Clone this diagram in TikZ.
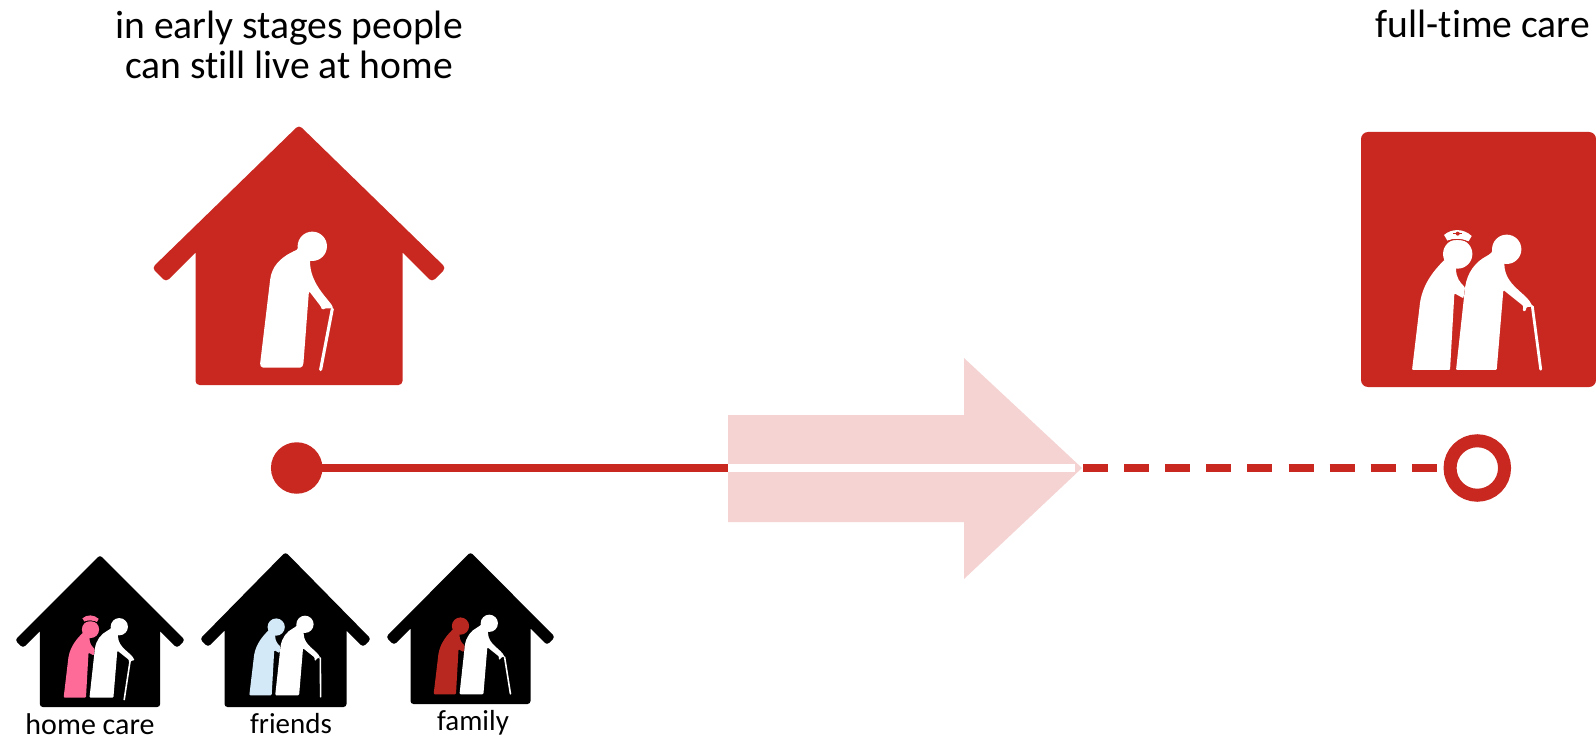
\documentclass[tikz,border=0pt]{standalone}
\usepackage{fontspec}
\setmainfont[Ligatures=NoCommon]{Carlito}
\definecolor{cred}{HTML}{C92820}
\definecolor{cpink}{HTML}{F5D3D3}
\definecolor{chome}{HTML}{FF6B99}
\definecolor{cfriend}{HTML}{D3E9F7}
\definecolor{cfam}{HTML}{B82820}
\tikzset{
  title/.style={font=\fontsize{39.6}{39.5}\selectfont,align=center,inner sep=0pt},
  lab/.style={font=\fontsize{29}{36}\selectfont,inner sep=0pt},
}
% #1 apex x, #2 apex y, #3 wall half width, #4 tip half width, #5 tip y, #6 eave depth, #7 bottom y, #8 colour, #9 corner radius
\newcommand{\myhouse}[9]{%
  \fill[#8,rounded corners=#9pt]
    (#1,#2-4) -- (#1+#4,#5) -- (#1+#4-#6,#5+#6)
    [sharp corners] -- (#1+#3,#5+#6-#4+#6+#3) [rounded corners=#9pt] -- (#1+#3,#7) -- (#1-#3,#7)
    [sharp corners] -- (#1-#3,#5+#6-#4+#6+#3) [rounded corners=#9pt] -- (#1-#4+#6,#5+#6) -- (#1-#4,#5) -- cycle;
}
% coordinates below: 3x zoom pixels, origin at the man's head centre
\newcommand{\soloman}{%
  \fill (0,0) circle (44);
  \fill[rounded corners=1.5] (-44,1) .. controls (-42,10) and (-50,12) .. (-60,17)
     .. controls (-95,35) and (-122,60) .. (-127,105) -- (-157,356) -- (-152,364) -- (-32,364) -- (-27,356) -- (-10,134)
     -- (26,181) -- (30,192) -- (36,186) -- (62,186) -- (61,180)
     .. controls (40,150) and (-5,110) .. (-7,44) -- (0,0) -- cycle;
  \draw[white,line width=3.1pt,line cap=round] (60,188) -- (25,370);
}
\newcommand{\pairman}[1]{%
  \fill (0,0) circle (44);
  \fill[rounded corners=1] (-44,1) .. controls (-42,8) and (-48,12) .. (-56,18)
    .. controls (-95,38) and (-118,70) .. (-125,115) -- (-152,362) -- (-30,362) -- (-10,122)
    -- (50,170) -- (48,185) -- (56,186) -- (60,173) -- (78,172)
    .. controls (60,130) and (-5,110) .. (-7,44) -- (0,0) -- cycle;
  \draw[white,line width=\canew,line cap=round] #1;
}
\newcommand{\nurse}[2]{%
  \fill[#1] (-147,14) circle (44);
  \fill[#1,rounded corners=1] (-187,32) .. controls (-215,60) and (-250,100) .. (-260,160)
    -- (-284,362) -- (-170,362) -- (-157,132) -- (-130,147) -- (-125,114)
    .. controls (-140,100) and (-152,85) .. (-152,56) -- (-147,14) -- cycle;
  #2
}
% #1 cap colour, #2 colour behind the gap
\newcommand{\nursecap}[2]{%
  \fill[#1] (-188,-43) .. controls (-165,-63) and (-130,-63) .. (-105,-40)
     -- (-115,-23) .. controls (-135,-34) and (-160,-34) .. (-178,-26) -- cycle;
  \draw[#2,line width=\capgap] (-186,-20) .. controls (-160,-33) and (-135,-33) .. (-106,-18);
}
\begin{document}
\begin{tikzpicture}[x=1pt,y=-1pt]
\useasboundingbox (0,0) rectangle (1596,741);
% large house and square
\myhouse{299}{129}{103.5}{147}{268}{14}{385}{cred}{4}
\begin{scope}[shift={(312.3,246.3)},x=0.3333pt,y=-0.3333pt,white]
  \soloman
\end{scope}
\fill[cred,rounded corners=7pt] (1361,132) rectangle (1596,387);
\begin{scope}[shift={(1506.7,249.3)},x=0.3333pt,y=-0.3333pt,white]
  \def\canew{2.8pt}\def\capgap{0.9pt}
  \nurse{white}{\nursecap{white}{cred}\fill[cred] (-147,-47) circle (6);
    \fill[cred] (-161,-49) rectangle (-133,-45);}
  \pairman{(77,172) -- (102,360)}
\end{scope}
% small houses
\myhouse{100}{559}{60.2}{85}{640}{8}{707}{black}{3}
\begin{scope}[shift={(119.3,626.7)},x=0.196pt,y=-0.196pt,white]
  \def\canew{1.6pt}\def\capgap{0.6pt}
  \nurse{chome}{\nursecap{chome}{black}}
  \pairman{(55,175) -- (25,372)}
\end{scope}
\myhouse{285.5}{556}{61}{85.5}{639}{8}{707}{black}{3}
\begin{scope}[shift={(305,624.3)},x=0.196pt,y=-0.196pt,white]
  \def\canew{1.6pt}
  \nurse{cfriend}{}
  \pairman{(78,172) -- (80,370)}
\end{scope}
\myhouse{470.5}{556}{60}{84.5}{637}{8}{704}{black}{3}
\begin{scope}[shift={(489.3,623.3)},x=0.196pt,y=-0.196pt,white]
  \def\canew{1.6pt}
  \nurse{cfam}{}
  \pairman{(78,172) -- (108,360)}
\end{scope}
% arrow
\fill[cpink] (728,415) -- (964,415) -- (964,358) -- (1082,468) -- (964,579) -- (964,522) -- (728,522) -- cycle;
% nodes and connectors
\node[circle,fill=cred,minimum size=51.5pt,inner sep=0pt,outer sep=0pt] (start) at (296.7,468) {};
\node[circle,draw=cred,line width=13pt,fill=white,minimum size=54.5pt,inner sep=0pt,outer sep=0pt] (end) at (1477.3,468) {};
\coordinate (arrowin) at (728,468);
\coordinate (arrowout) at (1083,468);
\draw[cred,line width=8.3pt] (start) -- (arrowin);
\fill[white] (728,464) rectangle (1075,472);
\draw[cred,line width=8.3pt,dash pattern=on 25pt off 16.1pt] (arrowout) -- (end);
% text
\node[title] (t1) at (289,45) {in early stages people\\can still live at home};
\node[title,anchor=base east] (t2) at (1590,38) {full-time care};
\node[lab,font=\fontsize{30}{36}\selectfont] (l1) at (90,724) {home care};
\node[lab] (l2) at (291,724) {friends};
\node[lab] (l3) at (473,723) {family};
\end{tikzpicture}
\end{document}
